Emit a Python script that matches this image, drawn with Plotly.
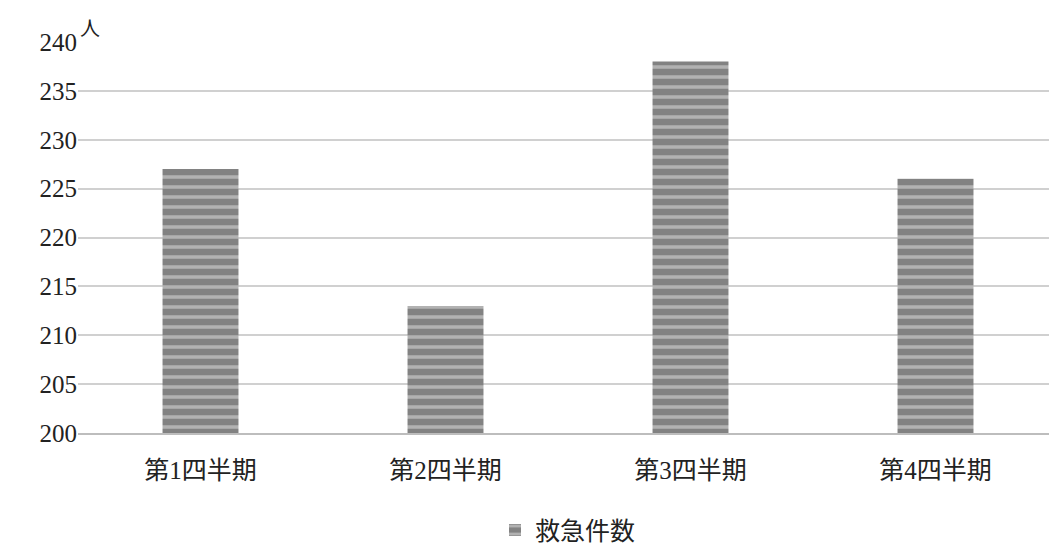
import plotly.graph_objects as go

categories = ["第1四半期", "第2四半期", "第3四半期", "第4四半期"]
values = [227, 213, 238, 226]
series_name = "救急件数"

FONT = "Liberation Serif, Noto Sans CJK JP"

fig = go.Figure(go.Bar(
    x=categories, y=values, name=series_name, width=0.31,
    marker=dict(color="#828282", line=dict(width=0),
                pattern=dict(shape="-", fgcolor="#e2e2e2", bgcolor="#828282",
                             size=10, solidity=0.35, fillmode="overlay")),
    showlegend=True,
))

fig.update_layout(
    width=1057, height=552,
    margin=dict(l=70, r=7, t=34, b=117),
    plot_bgcolor="white", paper_bgcolor="white",
    font=dict(family=FONT, size=25, color="#222"),
    xaxis=dict(showline=True, linecolor="#bdbdbd", linewidth=2, tickfont=dict(size=25),
               ticks="outside", ticklen=14, tickcolor="rgba(0,0,0,0)"),
    yaxis=dict(range=[200, 240], dtick=5, gridcolor="#d0d0d0", gridwidth=2,
               zeroline=False, ticks="", tickfont=dict(size=25)),
    legend=dict(orientation="h", x=0.5, xanchor="center", y=-0.19, yanchor="top",
                font=dict(size=25)),
    annotations=[dict(text="人", xref="paper", yref="paper", x=0.0, y=1.0,
                      xanchor="left", yanchor="bottom", showarrow=False,
                      font=dict(size=20))],
)

fig.write_html("out.html")
